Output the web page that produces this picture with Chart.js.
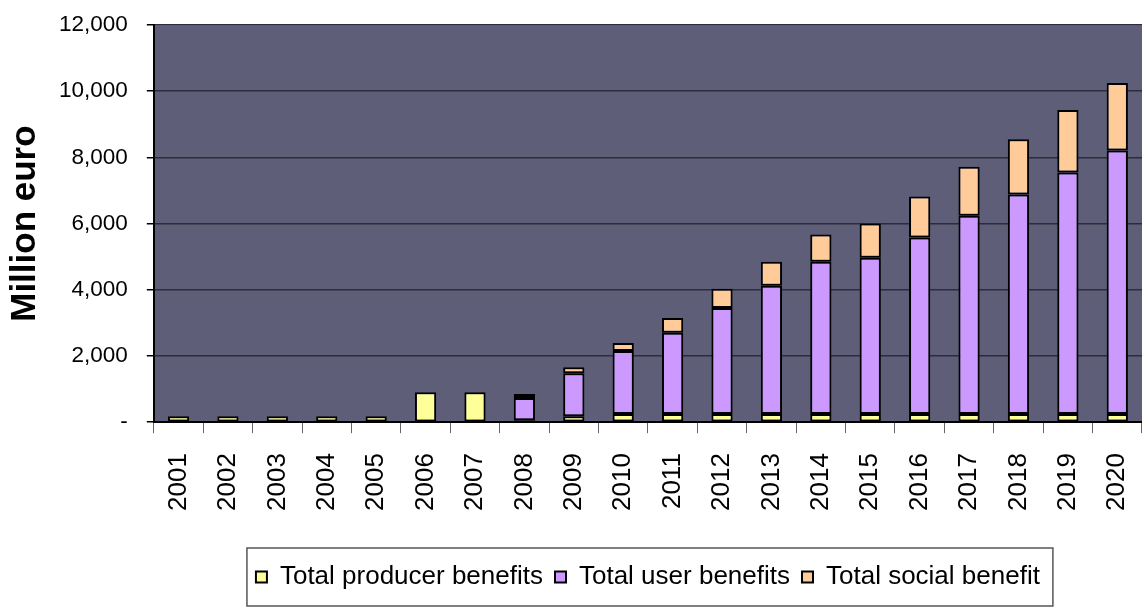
<!DOCTYPE html>
<html>
<head>
<meta charset="utf-8">
<script src="https://cdn.jsdelivr.net/npm/chart.js"></script>
<style>
  body { margin: 0; background: #fff; }
  #wrap { width: 1142px; height: 608px; }
</style>
</head>
<body>
<div id="wrap"><canvas id="benefits" width="1142" height="608"></canvas></div>
<script>
// values, million euro
var years = ['2001','2002','2003','2004','2005','2006','2007','2008','2009','2010',
             '2011','2012','2013','2014','2015','2016','2017','2018','2019','2020'];
var producer = [180, 180, 180, 180, 180, 900, 900, 60, 180, 250,
                250, 250, 250, 250, 250, 250, 250, 250, 250, 250];
var users = [null, null, null, null, null, null, null, 670, 1300, 1900,
             2450, 3200, 3870, 4600, 4720, 5330, 5990, 6630, 7295, 7960];
var social = [null, null, null, null, null, null, null, 120, 180, 244,
              450, 580, 730, 820, 1030, 1240, 1480, 1665, 1885, 2040];
var seriesNames = ['Total producer benefits', 'Total user benefits', 'Total social benefit'];
var yTicks = [0, 2000, 4000, 6000, 8000, 10000, 12000];

// the original text is a narrow face; use one if it is there
var probe = document.createElement('canvas').getContext('2d');
function hasFont(name) {
	var t = 'Total producer benefits 12,000';
	probe.font = '40px monospace';
	var a = probe.measureText(t).width;
	probe.font = '40px "' + name + '", monospace';
	return probe.measureText(t).width !== a;
}
var narrow = hasFont('Liberation Sans Narrow') ? '"Liberation Sans Narrow"' : '"Liberation Sans", Arial';
function fitSize(family, text, width) {
	probe.font = '100px ' + family;
	return Math.round(100 * width / probe.measureText(text).width * 2) / 2;
}
var legendSize = fitSize(narrow, seriesNames[0], 263);
var tickSize = fitSize(narrow, '12,000', 69);

var plotBg = {
	id: 'plotBg',
	beforeDraw: function(chart) {
		var a = chart.chartArea, ctx = chart.ctx;
		ctx.save();
		ctx.fillStyle = '#5e5e78';
		ctx.fillRect(a.left, a.top, a.right - a.left, a.bottom - a.top);
		ctx.strokeStyle = '#8a8a8a';
		ctx.lineWidth = 2;
		ctx.beginPath();
		ctx.moveTo(a.left, a.top);
		ctx.lineTo(a.right, a.top);
		ctx.stroke();
		ctx.restore();
	},
	afterDraw: function(chart) {
		var boxes = chart.legend.legendHitBoxes;
		if (!boxes || !boxes.length) return;
		var first = boxes[0], last = boxes[boxes.length - 1];
		var ctx = chart.ctx;
		ctx.save();
		ctx.strokeStyle = '#555';
		ctx.lineWidth = 1.5;
		ctx.strokeRect(first.left - 9, first.top - 16,
			last.left + last.width - first.left + 22, first.height + 32);
		ctx.restore();
	}
};

function barSet(label, data, colour) {
	return {
		label: label,
		data: data,
		backgroundColor: colour,
		borderColor: '#000',
		borderWidth: 2,
		borderSkipped: false,
		barPercentage: 0.43,
		categoryPercentage: 1
	};
}

var ctx = document.getElementById('benefits');
var chart = new Chart(ctx, {
	type: 'bar',
	data: {
		labels: years,
		datasets: [
			barSet(seriesNames[0], producer, '#ffff99'),
			barSet(seriesNames[1], users, '#cc99ff'),
			barSet(seriesNames[2], social, '#ffcc99')
		]
	},
	options: {
		responsive: false,
		animation: false,
		layout: { padding: { top: 25, right: 0, bottom: 8, left: 0 } },
		plugins: {
			tooltip: { enabled: false },
			legend: {
				position: 'bottom',
				fullSize: false,
				labels: {
					boxWidth: 11,
					boxHeight: 11,
					padding: 12,
					color: '#000',
					font: { family: narrow, size: legendSize }
				}
			}
		},
		scales: {
			x: {
				stacked: true,
				afterFit: function(axis) {
					// the plot runs to the right edge of the picture
					axis.paddingLeft = 0;
					axis.paddingRight = 0;
					axis.height += 21;
				},
				grid: { drawOnChartArea: false, color: '#666', tickLength: 11 },
				border: { color: '#000', width: 2 },
				ticks: {
					color: '#000',
					minRotation: 90,
					maxRotation: 90,
					padding: 20,
					font: { family: '"Liberation Sans", Arial', size: 26 }
				}
			},
			y: {
				stacked: true,
				min: 0,
				max: 12000,
				afterBuildTicks: function(axis) {
					axis.ticks = yTicks.map(function(v) { return { value: v }; });
				},
				afterFit: function(axis) {
					axis.paddingTop = 0;
					axis.paddingBottom = 0;
					axis.width -= 19;
				},
				grid: { color: '#2c2c3c', lineWidth: 1.5, tickLength: 7, tickColor: '#000' },
				border: { color: '#000', width: 2 },
				ticks: {
					color: '#000',
					padding: 19,
					font: { family: narrow, size: tickSize },
					callback: function(v) { return v === 0 ? '-' : v.toLocaleString('en-US'); }
				},
				title: {
					display: true,
					text: 'Million euro',
					color: '#000',
					padding: { top: 4, bottom: 13 },
					font: { family: '"Liberation Sans", Arial', size: 35, weight: 'bold' }
				}
			}
		}
	},
	plugins: [plotBg]
});
</script>
</body>
</html>
